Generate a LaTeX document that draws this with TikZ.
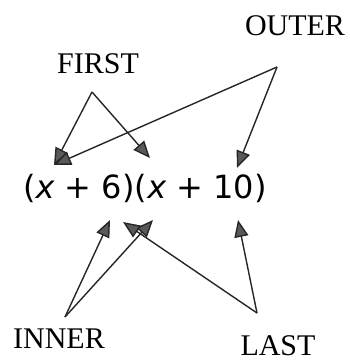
\documentclass[tikz,border=0pt]{standalone}
\usepackage{fontspec}
\setmainfont{Liberation Serif}
\newfontfamily\exprfont{DejaVu Sans}
\usetikzlibrary{arrows.meta}
\begin{document}
\begin{tikzpicture}[x=1pt,y=-1pt,
  lbl/.style={font=\fontsize{30}{34}\selectfont, inner sep=0pt},
  expr/.style={font=\exprfont\fontsize{32}{36}\selectfont, inner sep=0pt},
  arr/.style={line width=1.4pt, draw=black!85, -{Triangle[length=17pt,width=14pt,fill=black!65]}}]
\useasboundingbox (0,0) rectangle (349,362);
\node[lbl] (outer) at (295,26) {OUTER};
\node[lbl] (first) at (98,64) {FIRST};
\node[lbl] (inner) at (59,339) {INNER};
\node[lbl] (last) at (278,346) {LAST};
\node[expr] (ex) at (145,188) {(\textit{x} + 6)(\textit{x} + 10)};
\coordinate (fa) at (92,92);
\coordinate (oa) at (277,67);
\coordinate (ia) at (65,317);
\coordinate (la) at (257,313);
\coordinate (t1) at (54,165);
\coordinate (t2) at (150,158);
\coordinate (t3) at (237,168);
\coordinate (b1) at (110,220);
\coordinate (b2) at (123,222);
\coordinate (b3) at (153,220);
\coordinate (b4) at (238,220);
\draw[arr] (fa) -- (t1);
\draw[arr] (fa) -- (t2);
\draw[arr] (oa) -- (t1);
\draw[arr] (oa) -- (t3);
\draw[arr] (ia) -- (b1);
\draw[arr] (ia) -- (b3);
\draw[arr] (la) -- (b2);
\draw[arr] (la) -- (b4);
\end{tikzpicture}
\end{document}
